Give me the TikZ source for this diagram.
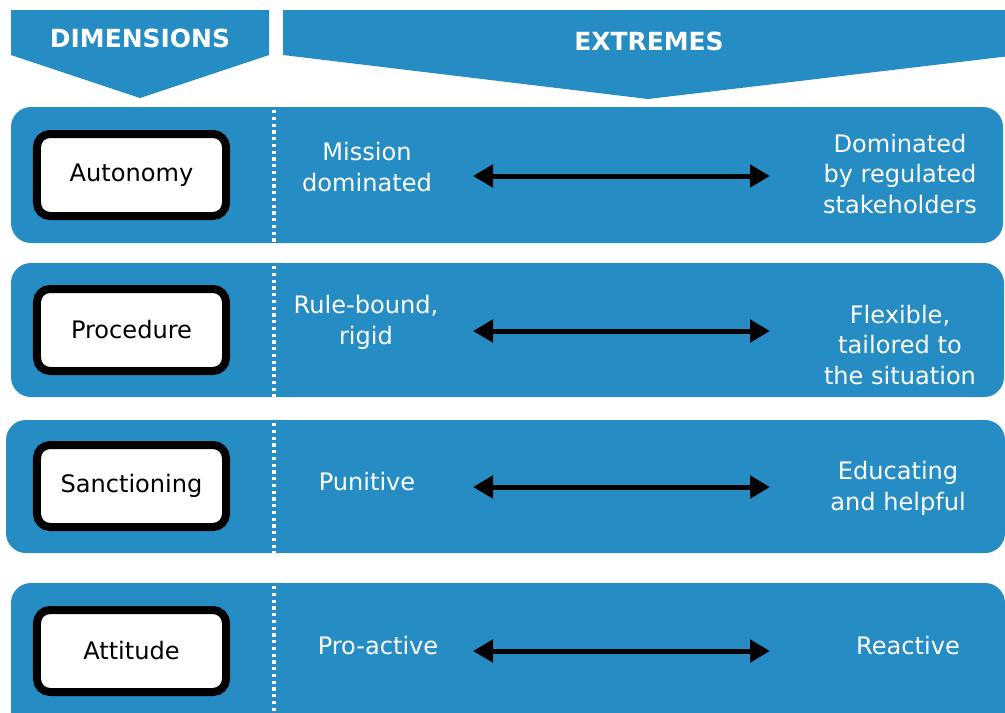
\documentclass[tikz,border=0pt]{standalone}
\usepackage{fontspec}
\setmainfont{DejaVu Sans}
\usetikzlibrary{arrows.meta}
\definecolor{bandblue}{RGB}{38,140,196}
\tikzset{
  band/.style={fill=bandblue, rounded corners=4mm},
  dimbox/.style={draw=black, line width=1.6mm, fill=white, rounded corners=2.6mm,
    minimum width=37.8mm, minimum height=16.4mm, font=\fontsize{13.7}{17.6}\selectfont},
  extreme/.style={text=white, align=center, font=\fontsize{13.7}{17.6}\selectfont},
  headtext/.style={text=white, font=\bfseries\fontsize{14.2}{17}\selectfont},
  divider/.style={white, line width=0.7mm, dash pattern=on 0.65mm off 0.7mm},
  spread/.style={{Triangle[length=4mm,width=4.4mm]}-{Triangle[length=4mm,width=4.4mm]}, line width=1mm, black}
}

\begin{document}
\begin{tikzpicture}[x=0.2mm, y=-0.2mm]
			%%%%% START %%%%%
			\useasboundingbox (0,0) rectangle (1005,712);
			\clip (0,0) rectangle (1005,712);
			
			% header arrows
			\fill[bandblue] (11,10) -- (269,10) -- (269,55) -- (140,98) -- (11,55) -- cycle;
			\fill[bandblue] (283,10) -- (1010,10) -- (1010,56) -- (648,99) -- (283,55) -- cycle;
			\node[headtext] (dimhead) at (140,38) {DIMENSIONS};
			\node[headtext] (exthead) at (649,41) {EXTREMES};
			
			% bands
			\fill[band] (11,107) rectangle (1003,243);
			\fill[band] (11,263) rectangle (1004,397);
			\fill[band] (6,420) rectangle (1005,553);
			\fill[band] (11,583) rectangle (1005,760);
			
			\draw[divider] (274,110) -- (274,243);
			\draw[divider] (274,266) -- (274,397);
			\draw[divider] (274,423) -- (274,553);
			\draw[divider] (274,586) -- (274,712);
			
			% dimensions
			\node[dimbox] (autonomy) at (131.5,175) {Autonomy};
			\node[dimbox] (procedure) at (131.5,330) {Procedure};
			\node[dimbox] (sanctioning) at (131.5,486) {Sanctioning};
			\node[dimbox] (attitude) at (131.5,651) {Attitude};
			
			% left extremes
			\node[extreme] (mission) at (367,167) {Mission\\dominated};
			\node[extreme] (rulebound) at (366,322) {Rule-bound,\\rigid};
			\node[extreme] (punitive) at (367,482) {Punitive};
			\node[extreme] (proactive) at (378,646) {Pro-active};
			
			% right extremes
			\node[extreme] (regulated) at (900,174) {Dominated\\by regulated\\stakeholders};
			\node[extreme] (flexible) at (900,345) {Flexible,\\tailored to\\the situation};
			\node[extreme] (educating) at (898,488) {Educating\\and helpful};
			\node[extreme] (reactive) at (908,646) {Reactive};
			
			% scales between the extremes
			\coordinate (s1l) at (473,176);
			\coordinate (s1r) at (770,176);
			\coordinate (s2l) at (473,331);
			\coordinate (s2r) at (770,331);
			\coordinate (s3l) at (473,487);
			\coordinate (s3r) at (770,487);
			\coordinate (s4l) at (473,651);
			\coordinate (s4r) at (770,651);
			\draw[spread] (s1l) -- (s1r);
			\draw[spread] (s2l) -- (s2r);
			\draw[spread] (s3l) -- (s3r);
			\draw[spread] (s4l) -- (s4r);
			
			%%%%% END %%%%%
\end{tikzpicture}
\end{document}
